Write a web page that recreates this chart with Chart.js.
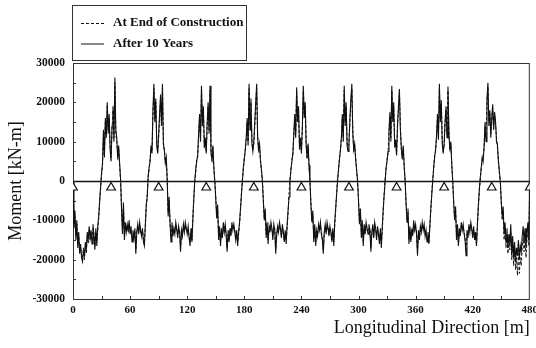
<!DOCTYPE html>
<html>
<head>
<meta charset="utf-8">
<title>Moment along the bridge</title>
<script src="https://cdn.jsdelivr.net/npm/chart.js@4.4.1/dist/chart.umd.min.js"></script>
<style>
  html, body { margin: 0; padding: 0; background: #fff; }
</style>
</head>
<body>
<canvas id="moments" width="536" height="348"></canvas>
<script>
// girder bending moment [kN-m], one value per metre from 0 to 480 m
const afterTenYears = [
  0, -12000, -7500, -15000, -10000, -17000, -13000, -18500, -16000, -19500,
  -20500, -18000, -19000, -15500, -17500, -13000, -15000, -11500, -14500, -12500,
  -16000, -11000, -14000, -17500, -12000, -16500, -11500, -9000, -5000, -1500,
  2000, 4500, 13000, 6000, 16000, 11000, 20000, 12000, 17000, 8000,
  5000, 14000, 19000, 10000, 26300, 13000, 11000, 5500, 9000, 4500,
  500, -7000, -13500, -5500, -15000, -10500, -13000, -11000, -12500, -10000,
  -13500, -11500, -15500, -12500, -14500, -12000, -18500, -13000, -11000, -13500,
  -10500, -12500, -14000, -12000, -15500, -16500, -11000, -6000, -4000, 1000,
  3500, 5000, 9000, 7000, 18000, 24700, 15000, 21000, 9000, 7000,
  12000, 17000, 22000, 14000, 24700, 9300, 8000, 4500, 6000, 500,
  -9000, -4000, -11000, -15500, -10500, -14000, -12000, -13500, -10500, -12000,
  -14500, -11500, -13000, -18000, -12500, -14000, -11000, -13000, -10500, -12000,
  -13500, -11500, -14500, -16500, -12000, -15500, -9000, -4000, 0, 3000,
  5000, 6500, 12000, 17000, 10000, 24200, 14000, 19000, 8400, 11000,
  7000, 15000, 20000, 12000, 24200, 7000, 5500, 9000, 3500, 0,
  -4500, -9500, -6000, -15000, -11500, -16500, -12000, -14500, -10500, -13000,
  -11000, -14000, -18000, -12500, -15500, -12000, -14000, -10500, -12500, -11000,
  -13000, -15000, -12500, -16500, -13000, -10500, -7000, -3500, 0, 3500,
  5500, 8000, 11000, 16000, 9000, 24700, 13000, 21000, 9500, 7500,
  10000, 15000, 20000, 24700, 11000, 8000, 9500, 5000, 3000, 0,
  -5000, -10000, -7000, -14500, -10500, -16000, -11500, -13000, -10500, -12000,
  -15000, -11000, -12500, -18500, -13500, -11500, -13000, -10500, -12000, -14500,
  -11000, -13000, -15500, -12500, -16000, -11000, -7500, -4000, 0, 3000,
  5000, 7000, 12000, 17000, 11000, 23800, 15000, 19000, 8000, 11000,
  7000, 14000, 24200, 16000, 20000, 9000, 6000, 9500, 4000, 0,
  -6000, -10500, -7500, -15500, -11000, -16500, -12500, -14000, -11000, -12500,
  -10500, -13500, -15000, -18500, -13000, -11000, -13500, -10500, -12000, -14000,
  -11500, -13000, -15500, -12000, -16500, -10500, -7000, -3500, 0, 3000,
  5500, 8000, 11000, 17000, 10000, 24200, 14000, 20000, 9000, 7500,
  10000, 16000, 21000, 24700, 12000, 8000, 9500, 5500, 3000, 0,
  -5000, -11000, -7000, -14500, -10000, -16500, -11000, -13500, -10500, -12000,
  -13500, -11000, -12500, -18000, -13000, -11000, -14500, -10500, -12000, -15000,
  -11500, -13500, -16000, -12000, -17000, -11500, -7000, -3500, 0, 3500,
  5000, 7500, 12500, 17500, 10000, 24200, 15000, 20000, 8500, 10500,
  6500, 14500, 19000, 23400, 13000, 8500, 5500, 9000, 4000, 0,
  -6000, -10500, -7000, -16000, -11500, -15500, -12000, -14000, -10000, -12500,
  -11000, -13500, -19000, -12500, -15000, -11500, -13000, -10500, -12500, -11000,
  -14000, -12500, -15500, -13000, -16000, -11000, -7000, -3500, 0, 3500,
  6000, 8000, 11500, 17000, 10500, 24700, 15000, 20500, 9500, 7000,
  9500, 15500, 19000, 11000, 24000, 12000, 8000, 10000, 4500, 0,
  -5500, -10000, -6500, -15000, -11000, -16500, -12000, -14000, -10500, -12500,
  -11000, -13500, -15000, -19000, -12500, -14500, -11000, -13000, -10500, -12000,
  -14500, -11500, -15000, -13000, -16500, -10500, -6000, -2000, 1000, 3500,
  6000, 5000, 9000, 15000, 10000, 21000, 25000, 14000, 18000, 11000,
  16000, 19500, 13000, 17500, 15200, 10000, 9300, 5000, 2500, 0,
  -5000, -9000, -6500, -13500, -10500, -15500, -12000, -17000, -13500, -16000,
  -11000, -18500, -14000, -19500, -15500, -20500, -17000, -19000, -15000, -20000,
  -16500, -18000, -14000, -11500, -15500, -12000, -17000, -13000, -10500, -15000,
  0
];

const endOfConstruction = [
  0, -11000, -8500, -14000, -11000, -16000, -14000, -17500, -17000, -18500,
  -19500, -17000, -20000, -16500, -18500, -14000, -16000, -12500, -15000, -13500,
  -15000, -12000, -13500, -16500, -13000, -15500, -12500, -9500, -5500, -2000,
  1500, 4000, 12000, 7000, 15000, 12000, 19000, 13000, 16000, 9000,
  6000, 13000, 18000, 11000, 25000, 12000, 10000, 6500, 8000, 4000,
  0, -6500, -12500, -6500, -14000, -11500, -12500, -12000, -13000, -11000,
  -13000, -12500, -14500, -13500, -14000, -13000, -17500, -12500, -12000, -13000,
  -11500, -13000, -13500, -12500, -15000, -15500, -12000, -6500, -3500, 1500,
  3000, 5500, 8500, 7500, 17000, 23500, 16000, 20000, 10000, 7500,
  11000, 16000, 21000, 15000, 23500, 10000, 7500, 5000, 5500, 0,
  -8000, -5000, -10500, -14500, -11500, -13500, -13000, -13000, -11500, -12500,
  -14000, -12500, -12500, -17000, -13500, -13500, -12000, -12500, -11500, -12500,
  -13000, -12500, -14000, -15500, -13000, -15000, -9500, -4500, 500, 2500,
  5500, 6000, 11000, 16000, 11000, 23000, 15000, 18000, 9000, 10500,
  7500, 14000, 19000, 13000, 23000, 8000, 5000, 8500, 3000, 0,
  -4000, -9000, -7000, -14000, -12500, -15500, -13000, -14000, -11500, -12500,
  -12000, -13500, -17000, -13500, -15000, -12500, -13500, -11500, -12000, -12000,
  -12500, -14500, -13000, -15500, -13500, -11000, -7500, -3000, 500, 3000,
  6000, 7500, 10500, 15000, 10000, 23500, 14000, 20000, 10500, 8000,
  9500, 14000, 19000, 23500, 12000, 7500, 9000, 5500, 2500, 0,
  -4500, -9500, -8000, -13500, -11500, -15000, -12500, -12500, -11500, -12500,
  -14000, -12000, -12000, -17500, -14000, -12500, -12500, -11500, -12500, -14000,
  -12000, -12500, -15000, -13500, -15000, -12000, -8000, -3500, 500, 2500,
  5500, 6500, 11500, 16000, 12000, 22800, 16000, 18000, 9000, 10500,
  7500, 13000, 23000, 17000, 19000, 10000, 5500, 9000, 3500, 0,
  -5500, -10000, -8500, -14500, -12000, -15500, -13500, -13500, -12000, -12000,
  -11500, -13000, -14500, -17500, -13500, -12000, -13000, -11500, -12500, -13500,
  -12500, -12500, -15000, -13000, -15500, -11500, -7500, -3000, 500, 2500,
  6000, 7500, 10500, 16000, 11000, 23000, 15000, 19000, 10000, 8000,
  9500, 15000, 20000, 23500, 13000, 7500, 9000, 6000, 2500, 0,
  -4500, -10500, -8000, -13500, -11000, -15500, -12000, -13000, -11500, -12500,
  -13000, -12000, -12000, -17000, -13500, -12000, -14000, -11500, -12500, -14000,
  -12500, -13000, -15000, -13000, -16000, -12500, -7500, -3000, 500, 3000,
  5500, 7000, 12000, 16500, 11000, 23000, 16000, 19000, 9500, 10000,
  7000, 13500, 18000, 22500, 14000, 8000, 6000, 8500, 3500, 0,
  -5500, -10000, -8000, -15000, -12500, -15000, -13000, -13500, -11000, -12000,
  -12000, -13000, -18000, -13500, -14500, -12500, -12500, -11500, -12000, -12000,
  -13500, -13000, -15000, -14000, -15500, -12000, -7500, -3000, 500, 3000,
  6500, 7500, 11000, 16000, 11500, 23500, 16000, 19500, 10500, 7500,
  9000, 14500, 18000, 12000, 23000, 13000, 7500, 9500, 4000, 0,
  -5000, -9500, -7500, -14000, -12000, -16000, -13000, -13500, -11500, -12000,
  -12000, -13000, -14500, -18000, -13500, -14000, -12000, -12500, -11500, -12500,
  -14000, -12500, -14500, -14000, -16000, -11500, -6500, -2500, 500, 3000,
  5500, 6000, 8500, 14000, 11000, 20000, 24000, 15000, 17000, 12000,
  15000, 18500, 14000, 16500, 14500, 11000, 8500, 5500, 2000, 0,
  -5500, -10000, -7500, -15000, -12000, -17000, -13500, -18500, -15000, -17500,
  -13000, -20000, -16000, -21500, -17500, -22500, -19500, -24000, -18500, -23500,
  -19500, -21500, -17000, -14500, -18000, -14500, -19500, -15000, -12500, -16500,
  0
];

// pier and abutment stations [m]
const supports = [0, 40, 90, 140, 190, 240, 290, 340, 390, 440, 480];

const xTicks = [0, 60, 120, 180, 240, 300, 360, 420, 480];
const yTicks = [-30000, -20000, -10000, 0, 10000, 20000, 30000];

const serif = '"Liberation Serif", "Times New Roman", serif';
const ink = '#111';

const toPoints = vals => vals.map((m, i) => ({ x: i, y: m }));

// small inward tick marks, zero line, frame and the boxed key
const framePlugin = {
  id: 'frame',
  beforeDatasetsDraw(chart) {
    const { ctx, chartArea: a, scales: { x, y } } = chart;
    ctx.save();
    ctx.strokeStyle = ink;
    ctx.lineWidth = 1.6;
    const y0 = Math.round(y.getPixelForValue(0)) + 0.5;
    ctx.beginPath();
    ctx.moveTo(a.left, y0);
    ctx.lineTo(a.right, y0);
    ctx.stroke();

    ctx.lineWidth = 1;
    ctx.strokeStyle = '#333';
    ctx.strokeRect(a.left + 0.5, a.top + 0.5, a.right - a.left - 1, a.bottom - a.top);
    ctx.beginPath();
    for (let v = 30; v < 480; v += 30) {
      const px = Math.round(x.getPixelForValue(v)) + 0.5;
      ctx.moveTo(px, a.bottom);
      ctx.lineTo(px, a.bottom - 3);
    }
    for (let v = -25000; v <= 25000; v += 5000) {
      const py = Math.round(y.getPixelForValue(v)) + 0.5;
      ctx.moveTo(a.left, py);
      ctx.lineTo(a.left + 3, py);
    }
    ctx.stroke();
    ctx.restore();
  },
  afterDraw(chart) {
    const { ctx } = chart;
    ctx.save();
    ctx.strokeStyle = '#333';
    ctx.lineWidth = 1;
    ctx.strokeRect(72.5, 5.5, 174, 55);
    const rows = chart.data.datasets.filter(d => d.label);
    rows.forEach((d, i) => {
      const ry = 23 + i * 20.5;
      ctx.strokeStyle = ink;
      ctx.lineWidth = 1;
      ctx.setLineDash(d.borderDash || []);
      ctx.beginPath();
      ctx.moveTo(81, ry + 0.5);
      ctx.lineTo(104, ry + 0.5);
      ctx.stroke();
      ctx.setLineDash([]);
      ctx.fillStyle = ink;
      ctx.font = 'bold 13px ' + serif;
      ctx.textBaseline = 'middle';
      ctx.fillText(d.label, 113, ry);
    });
    ctx.restore();
  }
};

new Chart(document.getElementById('moments'), {
  type: 'line',
  data: {
    datasets: [
      {
        type: 'scatter',
        data: supports.map(s => ({ x: s, y: -1650 })),
        pointStyle: 'triangle',
        pointRadius: 5,
        backgroundColor: '#fff',
        borderColor: ink,
        borderWidth: 1.2
      },
      {
        label: 'At End of Construction',
        data: toPoints(endOfConstruction),
        borderColor: ink,
        borderWidth: 1,
        borderDash: [3, 2],
        pointRadius: 0,
        tension: 0
      },
      {
        label: 'After 10 Years',
        data: toPoints(afterTenYears),
        borderColor: ink,
        borderWidth: 1.1,
        pointRadius: 0,
        tension: 0
      }
    ]
  },
  options: {
    responsive: false,
    animation: false,
    layout: { padding: { top: 63, right: 5, left: 0, bottom: 0 } },
    plugins: { legend: { display: false }, tooltip: { enabled: false } },
    scales: {
      x: {
        type: 'linear',
        min: 0,
        max: 480,
        afterBuildTicks: s => { s.ticks = xTicks.map(v => ({ value: v })); },
        afterFit: s => { s.height = 49; s.paddingLeft = 0; s.paddingRight = 0; },
        grid: { display: false, drawTicks: false },
        border: { display: false },
        ticks: {
          padding: 5,
          color: ink,
          font: { family: serif, size: 11, weight: 'bold' },
          callback: v => String(v)
        },
        title: {
          display: true,
          text: 'Longitudinal Direction [m]',
          align: 'end',
          color: ink,
          padding: { top: 0, bottom: 9 },
          font: { family: serif, size: 18 }
        }
      },
      y: {
        min: -30000,
        max: 30000,
        afterBuildTicks: s => { s.ticks = yTicks.map(v => ({ value: v })); },
        afterFit: s => { s.width = 73; s.paddingTop = 0; s.paddingBottom = 0; },
        grid: { display: false, drawTicks: false },
        border: { display: false },
        ticks: {
          padding: 8,
          color: ink,
          font: { family: serif, size: 11.5, weight: 'bold' },
          callback: v => String(v)
        },
        title: {
          display: true,
          text: 'Moment [kN-m]',
          color: ink,
          padding: { top: 5, bottom: 0 },
          font: { family: serif, size: 18 }
        }
      }
    }
  },
  plugins: [framePlugin]
});
</script>
</body>
</html>
